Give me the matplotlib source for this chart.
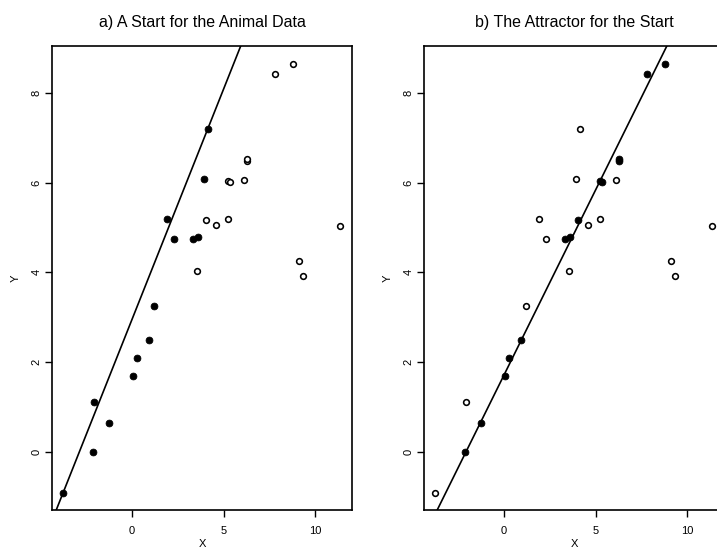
import matplotlib
matplotlib.use("Agg")
import matplotlib.pyplot as plt
import numpy as np

plt.rcParams['font.family'] = ['Liberation Sans', 'DejaVu Sans']

# log body weight (X) and log brain weight (Y), Animals data
animals = ["Mountain beaver", "Cow", "Grey wolf", "Goat", "Guinea pig", "Dipliodocus",
           "Asian elephant", "Donkey", "Horse", "Potar monkey", "Cat", "Giraffe",
           "Gorilla", "Human", "African elephant", "Triceratops", "Rhesus monkey",
           "Kangaroo", "Golden hamster", "Mouse", "Rabbit", "Sheep", "Jaguar",
           "Chimpanzee", "Rat", "Brachiosaurus", "Mole", "Pig"]
x_vals = [0.30, 6.14, 3.59, 3.32, 0.04, 9.37, 7.84, 5.23, 6.26, 2.30, 1.19, 6.27,
          5.33, 4.13, 8.80, 9.15, 1.92, 3.56, -2.12, -3.77, 0.92, 4.02, 4.61,
          3.95, -1.27, 11.37, -2.10, 5.26]
y_vals = [2.09, 6.05, 4.78, 4.74, 1.70, 3.91, 8.43, 6.04, 6.48, 4.74, 3.24, 6.52,
          6.01, 7.19, 8.65, 4.25, 5.19, 4.03, 0.00, -0.92, 2.49, 5.16, 5.06,
          6.09, 0.64, 5.04, 1.10, 5.19]

# membership (1 = filled) for each panel
in_start = [1, 0, 1, 1, 1, 0, 0, 0, 0, 1, 1, 0, 0, 1, 0, 0, 1, 0, 1, 1, 1, 0, 0,
            1, 1, 0, 1, 0]
in_attr = [1, 0, 1, 1, 1, 0, 1, 1, 1, 0, 0, 1, 1, 0, 1, 0, 0, 0, 1, 0, 1, 1, 0,
           0, 1, 0, 0, 0]

# fitted lines (intercept, slope)
line_start = (2.95, 1.027)
line_attr = (1.71, 0.825)

titles = ["a) A Start for the Animal Data", "b) The Attractor for the Start"]

x = np.array(x_vals)
y = np.array(y_vals)

fig = plt.figure(figsize=(7.17, 5.57), dpi=100)
W, H = 717, 557
positions = [(52, 46, 352, 510), (424, 46, 724, 510)]

for k, (mem, line, title) in enumerate(zip([in_start, in_attr], [line_start, line_attr], titles)):
    l, t, r, b = positions[k]
    ax = fig.add_axes([l / W, (H - b) / H, (r - l) / W, (b - t) / H])
    m = np.array(mem, dtype=bool)
    ax.scatter(x[m], y[m], s=24, c='black', edgecolors='black', linewidths=0.6, zorder=3)
    ax.scatter(x[~m], y[~m], s=17, facecolors='white', edgecolors='black', linewidths=1.15, zorder=3)
    xx = np.array([-6, 14])
    ax.plot(xx, line[0] + line[1] * xx, color='black', lw=1.2)
    ax.set_xlim(-4.37, 12.02)
    ax.set_ylim(-1.30, 9.05)
    ax.set_xticks([0, 5, 10])
    ax.set_yticks([0, 2, 4, 6, 8])
    ax.tick_params(direction='out', length=5, width=1, labelsize=8)
    ax.tick_params(axis='x', pad=6.5)
    ax.tick_params(axis='y', pad=2.5)
    for lab in ax.get_yticklabels():
        lab.set_rotation(90)
        lab.set_va('center')
    for sp in ax.spines.values():
        sp.set_linewidth(1.2)
    ax.set_xlabel("X", fontsize=8, labelpad=2)
    ax.set_ylabel("Y", fontsize=8, labelpad=8)
    ax.set_title(title, fontsize=11.5, pad=14)

fig.savefig("out.png", dpi=100)
